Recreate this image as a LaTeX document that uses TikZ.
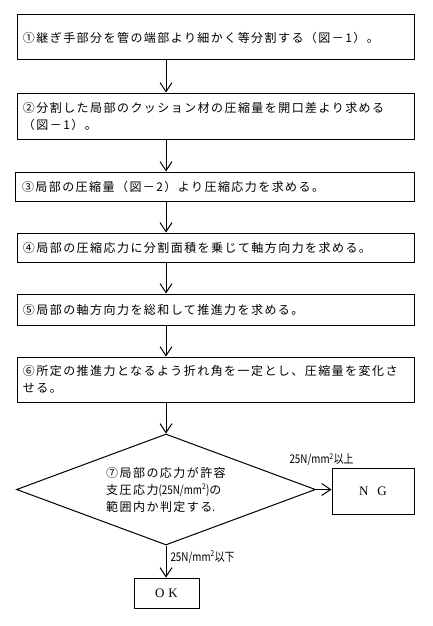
\documentclass[tikz,border=0pt]{standalone}
\usepackage{fontspec}
\setmainfont{Noto Sans CJK JP}[LetterSpace=12]
\newfontfamily\hwfont{Noto Sans CJK JP}[FakeStretch=0.82]
\newfontfamily\serfont{Liberation Serif}
\usetikzlibrary{arrows.meta,calc,positioning,shapes.geometric}
\newcommand{\hw}[1]{{\hwfont #1}}

\begin{document}
\begin{tikzpicture}[x=1pt,y=-1pt,line width=1pt,font=\fontsize{12}{17}\selectfont,
    >={Straight Barb[length=9pt,width=12pt]}]
    \tikzset{
      stepbox/.style={draw, align=left, minimum width=397pt, text width=385pt, inner xsep=6pt, inner ysep=0pt},
      decision/.style={draw, diamond, aspect=2.7, align=left, inner sep=0pt, minimum width=299pt, minimum height=111pt},
      result/.style={draw, inner sep=0pt, font=\serfont\fontsize{13}{13}\selectfont},
      lbl/.style={inner sep=0pt, font=\hwfont\fontsize{12}{12}\selectfont},
      arrow/.style={->}
    }
    \useasboundingbox (0,0) rectangle (433,626);
    \coordinate (spine) at (166,0);

    \node[stepbox, minimum height=45pt] (s1) at (215.5,37.5)
      {①継ぎ手部分を管の端部より細かく等分割する（図－1）。};
    \node[stepbox, minimum height=46pt] (s2) at (215.5,116)
      {②分割した局部のクッション材の圧縮量を開口差より求める\\（図－1）。};
    \node[stepbox, minimum height=29pt, minimum width=399pt] (s3) at (214.5,186.5)
      {③局部の圧縮量（図－2）より圧縮応力を求める。};
    \node[stepbox, minimum height=29pt] (s4) at (215.5,247.5)
      {④局部の圧縮応力に分割面積を乗じて軸方向力を求める。};
    \node[stepbox, minimum height=31pt] (s5) at (215.5,309.5)
      {⑤局部の軸方向力を総和して推進力を求める。};
    \node[stepbox, minimum height=45pt] (s6) at (215.5,379.5)
      {⑥所定の推進力となるよう折れ角を一定とし、圧縮量を変化さ\\せる。};

    \node[decision] (dia) at (166,489.5)
      {⑦局部の応力が許容\\支圧応力\hw{(25N/mm\textsuperscript{2})}の\\範囲内か判定する\hw{.}};
    \node[result, minimum width=82pt, minimum height=46pt] (ng) at (373,491) {N\hspace{9pt}G};
    \node[result, minimum width=65pt, minimum height=30pt] (ok) at (166.5,593) {O\hspace{4pt}K};

    \foreach \a/\b in {s1/s2,s2/s3,s3/s4,s4/s5,s5/s6}
      \draw[arrow] (\a.south -| spine) -- (\b.north -| spine);
    \draw[arrow] (s6.south -| spine) -- (dia.north);
    \draw[arrow] (dia.east) -- (dia.east -| ng.west);
    \draw[arrow] (dia.south) -- (ok.north -| spine);

    \node[lbl, anchor=south] at ($(ng.north west)+(-10,-1)$) {25N/mm\textsuperscript{2}以上};
    \node[lbl, anchor=west] at ($(dia.south)!0.36!(ok.north -| spine)+(4,0)$) {25N/mm\textsuperscript{2}以下};
  \end{tikzpicture}
\end{document}
